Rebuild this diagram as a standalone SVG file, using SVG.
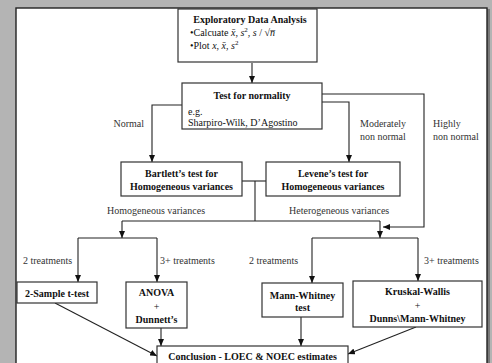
<svg xmlns="http://www.w3.org/2000/svg" width="492" height="363" viewBox="0 0 492 363" font-family="'Liberation Serif', 'DejaVu Serif', 'Times New Roman', serif">
<style>
.box{fill:#fff;stroke:#333;stroke-width:1.2}
.c{fill:none;stroke:#222;stroke-width:1.1}
text{font-family:'Liberation Serif','DejaVu Serif','Times New Roman',serif;font-size:10px;fill:#111}
.b{font-weight:bold;text-anchor:middle}
.l{fill:#333}
.i{font-style:italic}
</style>
<defs>
<marker id="ah" markerUnits="userSpaceOnUse" markerWidth="7" markerHeight="6" refX="7" refY="3" orient="auto">
<path d="M0,0 L7,3 L0,6 z" fill="#111"/>
</marker>
</defs>
<rect x="0" y="0" width="492" height="363" fill="#b4b4b4"/>
<rect x="487" y="9" width="3" height="354" fill="#7a7a7a"/>
<rect x="16" y="8" width="471" height="360" fill="#fff" stroke="#222" stroke-width="1.4"/>

<g id="connectors">
<line class="c" x1="252" y1="63" x2="252" y2="83" marker-end="url(#ah)"/>
<polyline class="c" points="182,105 152,105 152,162" marker-end="url(#ah)"/>
<polyline class="c" points="322,102 349,102 349,162" marker-end="url(#ah)"/>
<polyline class="c" points="322,94 424,94 424,227 383,227" marker-end="url(#ah)"/>
<line class="c" x1="242" y1="181" x2="266" y2="181"/>
<line class="c" x1="255" y1="181" x2="255" y2="221"/>
<line class="c" x1="122" y1="221" x2="380" y2="221"/>
<line class="c" x1="122" y1="221" x2="122" y2="238" marker-end="url(#ah)"/>
<line class="c" x1="380" y1="221" x2="380" y2="238" marker-end="url(#ah)"/>
<line class="c" x1="78" y1="238" x2="157" y2="238"/>
<line class="c" x1="78" y1="238" x2="78" y2="282" marker-end="url(#ah)"/>
<line class="c" x1="157" y1="238" x2="157" y2="282" marker-end="url(#ah)"/>
<line class="c" x1="312" y1="238" x2="418" y2="238"/>
<line class="c" x1="312" y1="238" x2="312" y2="283" marker-end="url(#ah)"/>
<line class="c" x1="418" y1="238" x2="418" y2="281" marker-end="url(#ah)"/>
<line class="c" x1="55" y1="303" x2="157" y2="356" marker-end="url(#ah)"/>
<line class="c" x1="161" y1="328" x2="161" y2="346" marker-end="url(#ah)"/>
<line class="c" x1="301" y1="317" x2="301" y2="346" marker-end="url(#ah)"/>
<line class="c" x1="416" y1="327" x2="348" y2="354" marker-end="url(#ah)"/>
</g>

<g id="labels">
<text class="l" x="144" y="127" text-anchor="end">Normal</text>
<text class="l" x="360" y="127">Moderately</text>
<text class="l" x="360" y="140">non normal</text>
<text class="l" x="433" y="127">Highly</text>
<text class="l" x="433" y="140">non normal</text>
<text class="l" x="107" y="214">Homogeneous variances</text>
<text class="l" x="289" y="214">Heterogeneous variances</text>
<text class="l" x="23" y="264">2 treatments</text>
<text class="l" x="160" y="264">3+ treatments</text>
<text class="l" x="249" y="264">2 treatments</text>
<text class="l" x="424" y="264">3+ treatments</text>
</g>

<g id="eda">
<rect class="box" x="178" y="9" width="139" height="53"/>
<text class="b" x="250" y="23">Exploratory Data Analysis</text>
<text x="190" y="36">•Calcuate  <tspan class="i">x̄</tspan>, <tspan class="i">s</tspan><tspan font-size="7" dy="-4">2</tspan><tspan dy="4">, </tspan><tspan class="i">s</tspan> / √<tspan class="i">n̅</tspan></text>
<text x="190" y="49">•Plot <tspan class="i">x</tspan>, <tspan class="i">x̄</tspan>, <tspan class="i">s</tspan><tspan font-size="7" dy="-4">2</tspan></text>
</g>

<g id="normality">
<rect class="box" x="182" y="83" width="140" height="46"/>
<text class="b" x="252" y="99">Test for normality</text>
<text x="188" y="115">e.g.</text>
<text x="188" y="126">Sharpiro-Wilk, D’Agostino</text>
</g>

<g id="bartlett">
<rect class="box" x="121" y="162" width="121" height="34"/>
<text class="b" x="181.5" y="177">Bartlett’s test for</text>
<text class="b" x="181.5" y="190">Homogeneous variances</text>
</g>

<g id="levene">
<rect class="box" x="266" y="162" width="134" height="34"/>
<text class="b" x="333" y="177">Levene’s test for</text>
<text class="b" x="333" y="190">Homogeneous variances</text>
</g>

<g id="ttest">
<rect class="box" x="17" y="282" width="80" height="21"/>
<text class="b" x="57" y="297">2-Sample t-test</text>
</g>

<g id="anova">
<rect class="box" x="126" y="282" width="61" height="46"/>
<text class="b" x="156.5" y="296">ANOVA</text>
<text x="156.5" y="310" text-anchor="middle">+</text>
<text class="b" x="156.5" y="323">Dunnett’s</text>
</g>

<g id="mannwhitney">
<rect class="box" x="262" y="283" width="81" height="34"/>
<text class="b" x="302.5" y="299">Mann-Whitney</text>
<text class="b" x="302.5" y="311">test</text>
</g>

<g id="kruskal">
<rect class="box" x="353" y="281" width="129" height="46"/>
<text class="b" x="417.5" y="295">Kruskal-Wallis</text>
<text x="417.5" y="309" text-anchor="middle">+</text>
<text class="b" x="417.5" y="322">Dunns\Mann-Whitney</text>
</g>

<g id="conclusion">
<rect class="box" x="157" y="346" width="191" height="24"/>
<text class="b" x="252.5" y="360">Conclusion - LOEC &amp; NOEC estimates</text>
</g>
</svg>
